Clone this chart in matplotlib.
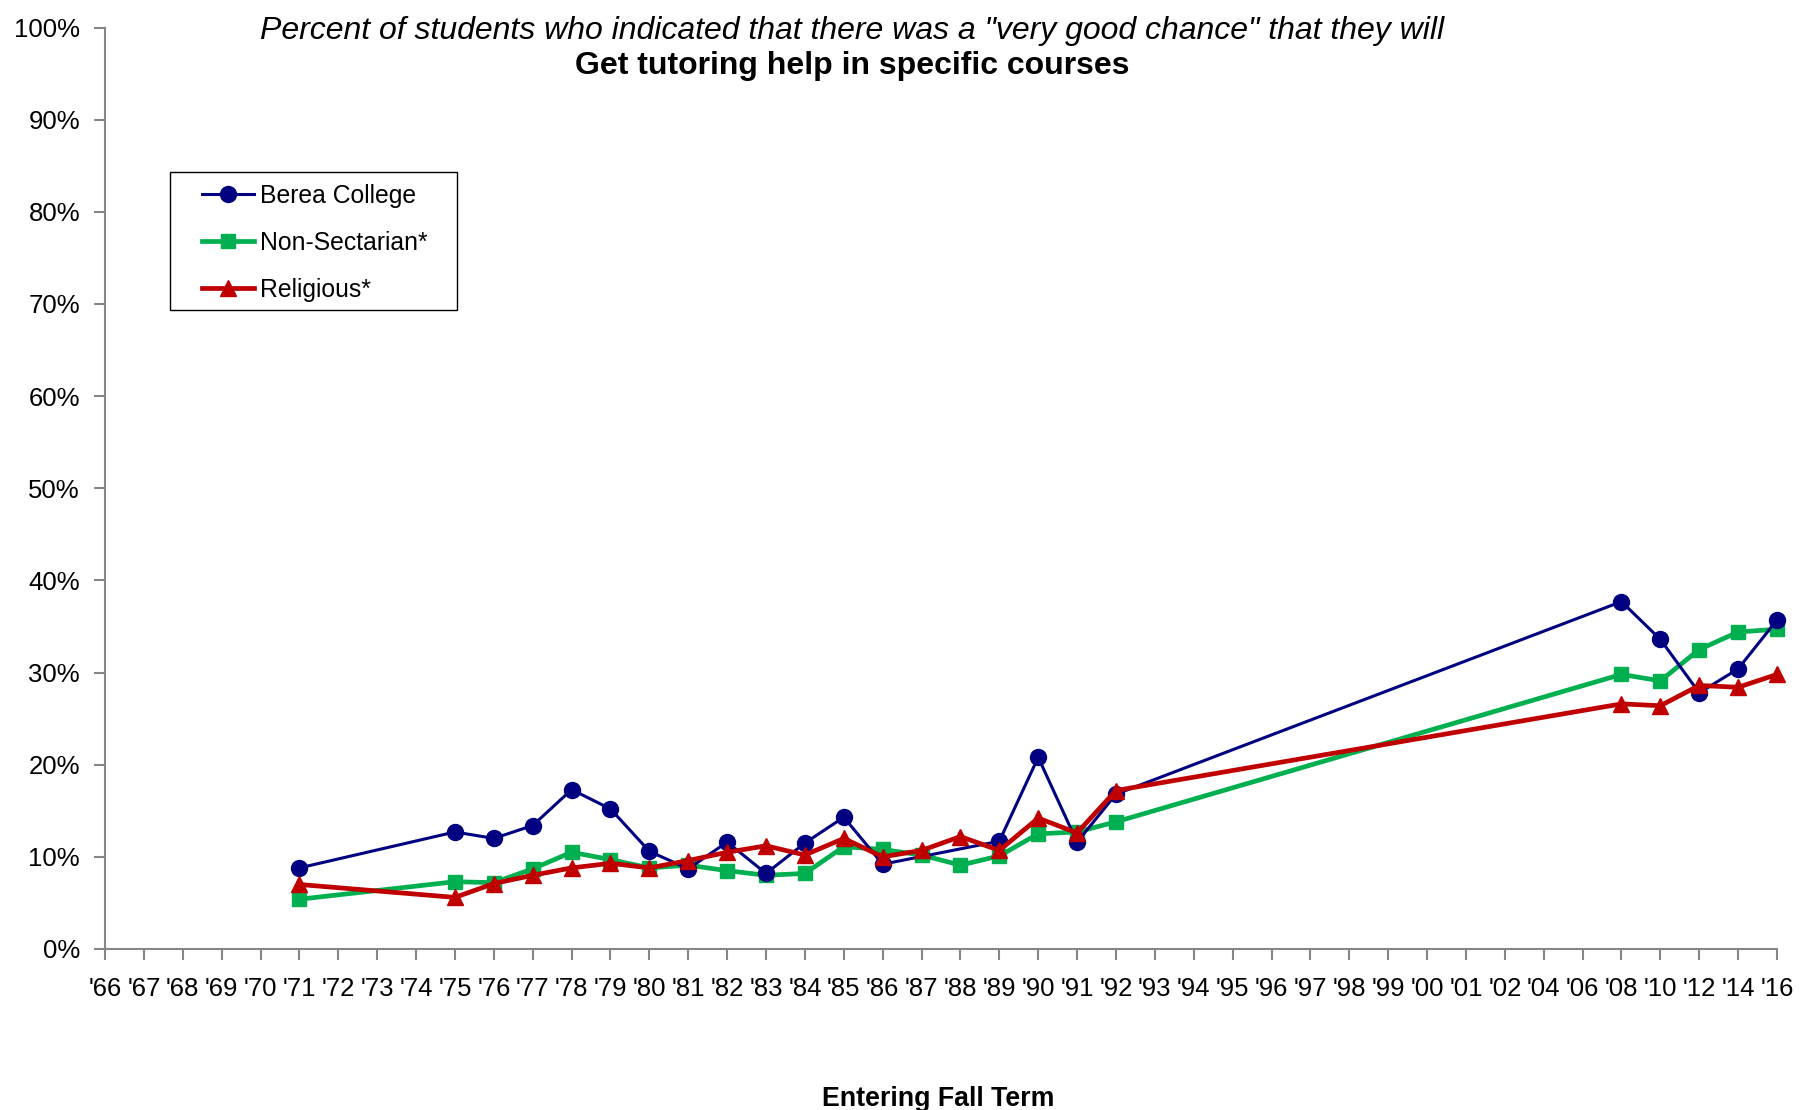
import matplotlib
matplotlib.use("Agg")
import matplotlib.pyplot as plt
from matplotlib.patches import Rectangle
import numpy as np

plt.rcParams['font.family'] = ['Liberation Sans', 'DejaVu Sans']

categories = ["'66", "'67", "'68", "'69", "'70", "'71", "'72", "'73", "'74", "'75",
              "'76", "'77", "'78", "'79", "'80", "'81", "'82", "'83", "'84", "'85",
              "'86", "'87", "'88", "'89", "'90", "'91", "'92", "'93", "'94", "'95",
              "'96", "'97", "'98", "'99", "'00", "'01", "'02", "'04", "'06", "'08",
              "'10", "'12", "'14", "'16"]

berea = ([None] * 5 + [8.8] + [None] * 3 +
         [12.7, 12.0, 13.4, 17.3, 15.2, 10.6, 8.7, 11.6, 8.2, 11.5, 14.3, 9.2,
          None, None, 11.7, 20.8, 11.6, 16.8] +
         [None] * 12 + [37.7, 33.6, 27.8, 30.4, 35.7])
non_sectarian = ([None] * 5 + [5.4] + [None] * 3 +
                 [7.3, 7.2, 8.7, 10.5, 9.7, 8.8, 9.1, 8.5, 8.0, 8.2, 11.1, 10.8,
                  10.2, 9.1, 10.1, 12.5, 12.7, 13.8] +
                 [None] * 12 + [29.8, 29.1, 32.5, 34.4, 34.7])
religious = ([None] * 5 + [7.0] + [None] * 3 +
             [5.6, 7.1, 8.0, 8.8, 9.3, 8.8, 9.6, 10.5, 11.2, 10.2, 12.0, 10.0,
              10.7, 12.2, 10.7, 14.2, 12.6, 17.2] +
             [None] * 12 + [26.6, 26.4, 28.6, 28.4, 29.8])

series_names = ["Berea College", "Non-Sectarian*", "Religious*"]

W, H = 1800, 1110
fig = plt.figure(figsize=(18, 11.1), dpi=100)
ax = fig.add_axes([105 / W, 1 - 949 / H, (1777 - 105) / W, (949 - 27.5) / H])

def valid(vals):
    xs = [i for i, v in enumerate(vals) if v is not None]
    ys = [v for v in vals if v is not None]
    return xs, ys

styles = [
    dict(color='#000080', lw=2.2, marker='o', ms=11.5, zorder=3),
    dict(color='#00B050', lw=3.4, marker='s', ms=10, zorder=2),
    dict(color='#C00000', lw=3.4, marker='^', ms=12, zorder=4),
]
for vals, name, st in zip([berea, non_sectarian, religious], series_names, styles):
    xs, ys = valid(vals)
    ax.plot(xs, ys, label=name, color=st['color'], lw=st['lw'], marker=st['marker'],
            ms=st['ms'], mfc=st['color'], mec=st['color'], zorder=st['zorder'],
            clip_on=False)

ax.set_xlim(0, len(categories) - 1)
ax.set_ylim(0, 100)
ax.set_xticks(range(len(categories)))
ax.set_xticklabels(categories, fontsize=18.5)
ax.set_yticks(range(0, 101, 10))
ax.set_yticklabels([f"{v}%" for v in range(0, 101, 10)], fontsize=18.5)

for s in ['top', 'right']:
    ax.spines[s].set_visible(False)
for s in ['left', 'bottom']:
    ax.spines[s].set_color('#868686')
    ax.spines[s].set_linewidth(1.5)
ax.tick_params(axis='both', direction='out', length=8, width=1.5, color='#868686')
ax.tick_params(axis='y', pad=10)
ax.tick_params(axis='x', pad=12)

fig.text(852 / W, 1 - 31 / H, 'Percent of students who indicated that there was a "very good chance" that they will',
         ha='center', va='center', fontsize=23, style='italic')
fig.text(852 / W, 1 - 66 / H, 'Get tutoring help in specific courses',
         ha='center', va='center', fontsize=23, weight='bold')
fig.text(938 / W, 1 - 1099 / H, 'Entering Fall Term', ha='center', va='center',
         fontsize=19.3, weight='bold')

# legend box
fig.patches.append(Rectangle((170 / W, 1 - 310 / H), (457 - 170) / W, (310 - 172) / H,
                             transform=fig.transFigure, fill=False, edgecolor='black',
                             linewidth=1.0, zorder=5))
leg = ax.legend(loc='upper left', bbox_to_anchor=(202 / W, 1 - 184 / H),
                bbox_transform=fig.transFigure,
                fontsize=17.8, frameon=False, borderpad=0, labelspacing=0.93,
                handlelength=2.1, handletextpad=0.25, borderaxespad=0)

fig.savefig('out.png', dpi=100)
